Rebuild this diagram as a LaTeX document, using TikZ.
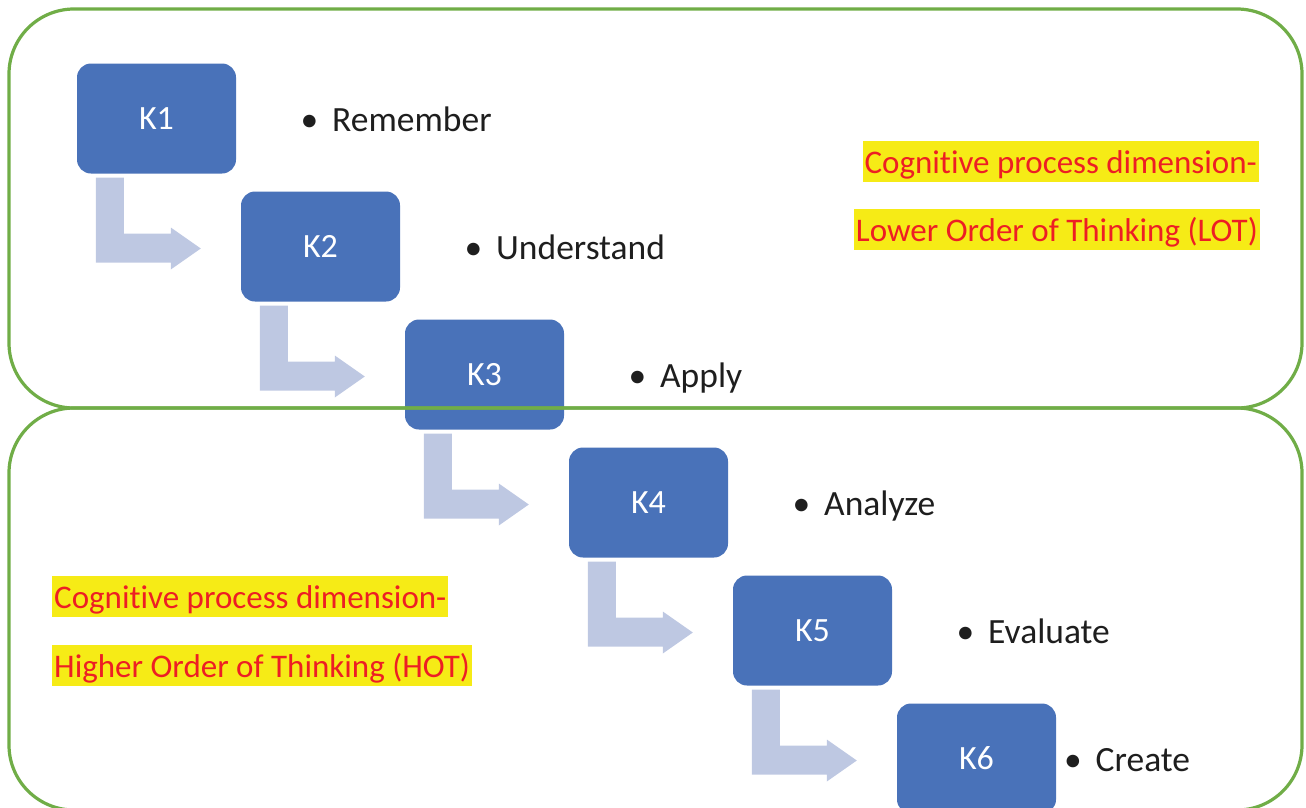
\documentclass[tikz,border=0pt]{standalone}
\usepackage{fontspec}
\setmainfont{Carlito}[RawFeature=-liga, RawFeature=-clig, RawFeature=-dlig]
\usetikzlibrary{calc}

\definecolor{kblue}{RGB}{73,114,185}
\definecolor{kflow}{RGB}{190,200,226}
\definecolor{frame}{RGB}{112,173,71}
\definecolor{hilite}{RGB}{246,235,22}
\definecolor{hired}{RGB}{237,30,36}
\definecolor{ink}{RGB}{30,30,30}

\tikzset{
  levelbox/.style={fill=kblue, draw=none, rounded corners=14pt,
    minimum width=159pt, minimum height=110pt, inner sep=0pt,
    text=white, font=\fontsize{34}{40}\selectfont},
  levelitem/.style={anchor=base west, inner sep=0pt, text=ink,
    font=\fontsize{35.5}{40}\selectfont},
  stepflow/.style={fill=kflow, draw=none},
  zone/.style={draw=frame, line width=3.2pt, rounded corners=65pt},
  dimlabel/.style={fill=hilite, text=hired, inner xsep=2pt, inner ysep=0pt,
    text height=32.5pt, text depth=9pt, font=\fontsize{33}{40}\selectfont},
}
\newcommand{\bul}{\llap{\textbullet\hspace{14pt}}}
% keep "t" and "i" as separate glyphs
\newcommand{\cogn}{Cogni\kern0pt tive}

\begin{document}
\begin{tikzpicture}[x=1pt, y=-1pt]
  \useasboundingbox (0,0) rectangle (1306,807);
  \clip (0,0) rectangle (1306,807);

  % the six levels, stepping down to the right
  \foreach \i in {1,...,6} {
    \node[levelbox] (k\i) at ({156.5+164*(\i-1)}, {118.5+128*(\i-1)}) {K\i};
  }

  % bent flow arrows between consecutive levels
  \foreach \a/\b in {k1/k2, k2/k3, k3/k4, k4/k5, k5/k6} {
    \fill[stepflow] ($(\a.south west)+(19,4)$) -- ($(\a.south west)+(47,4)$)
      |- ($(\b.west)+(-70,-13)$) -- ($(\b.west)+(-70,-19)$)
      -- ($(\b.west)+(-40,2)$) -- ($(\b.west)+(-70,23)$)
      -- ($(\b.west)+(-70,16)$) -| cycle;
  }

  % level names
  \node[levelitem] (t1) at ($(k1.center)+(175.5,12.5)$) {\bul Remember};
  \node[levelitem] (t2) at ($(k2.center)+(175.5,12.5)$) {\bul Understand};
  \node[levelitem] (t3) at ($(k3.center)+(175.5,12.5)$) {\bul Apply};
  \node[levelitem] (t4) at ($(k4.center)+(175.5,12.5)$) {\bul Analyze};
  \node[levelitem] (t5) at ($(k5.center)+(175.5,12.5)$) {\bul Evaluate};
  \node[levelitem] (t6) at ($(k6.center)+(119,12.5)$) {\bul Create};

  % the two zones
  \draw[zone] (9,9) rectangle (1302,408);
  \draw[zone] (9,408) rectangle (1302,810);

  % zone captions
  \node[dimlabel, anchor=base east] (lot1) at (1259,173) {\cogn{} process dimension-};
  \node[dimlabel, anchor=base east] (lot2) at (1260,241) {Lower Order of Thinking (LOT)};
  \node[dimlabel, anchor=base west] (hot1) at (52,608) {\cogn{} process dimension-};
  \node[dimlabel, anchor=base west] (hot2) at (52,677) {Higher Order of Thinking (HOT)};
\end{tikzpicture}
\end{document}
